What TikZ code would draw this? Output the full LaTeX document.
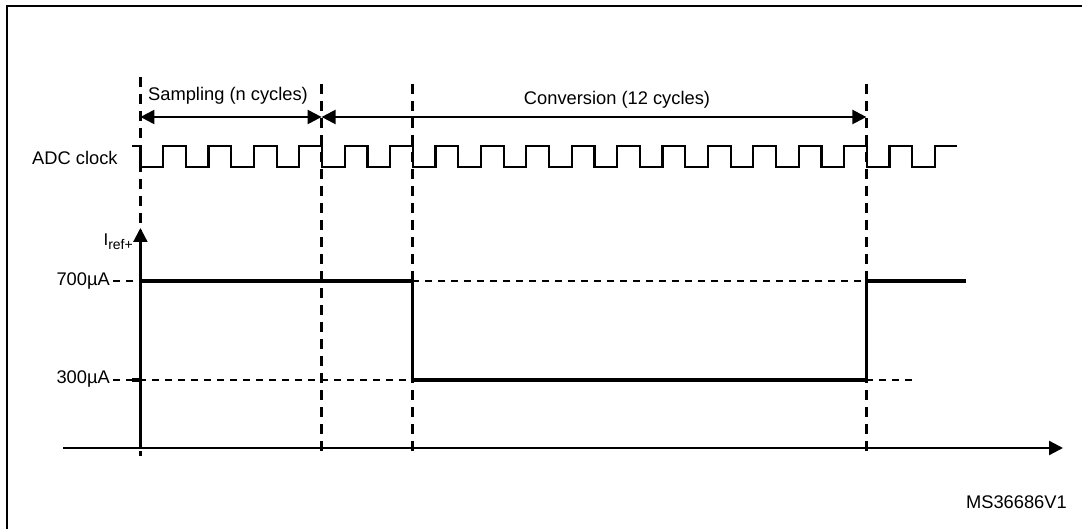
\documentclass[tikz,border=0pt]{standalone}
\usepackage{fontspec}
\setmainfont{Liberation Sans}
\usetikzlibrary{arrows.meta}
\begin{document}
\begin{tikzpicture}[x=1pt,y=-1pt,
  frame/.style={line width=2.6pt},
  clk/.style={line width=2.2pt},
  sig/.style={line width=3.4pt},
  vdashline/.style={line width=2.4pt, dash pattern=on 10pt off 7pt},
  hdashline/.style={line width=2pt, dash pattern=on 7pt off 6pt},
  axisline/.style={line width=2.3pt},
  tip/.style={-{Triangle[length=14pt,width=14pt]}},
  dimarrow/.style={line width=2.3pt,{Triangle[length=14pt,width=14pt]}-{Triangle[length=14pt,width=14pt]}},
  lbl/.style={font=\fontsize{18.3}{20}\selectfont, inner sep=0pt}
]
\useasboundingbox (0,0) rectangle (1082,529);
% frame (top and left edges only)
\coordinate (fTL) at (7,6);
\coordinate (fTR) at (1082,6);
\coordinate (fBL) at (7,529);
\draw[frame] (fTR) -- (fTL) -- (fBL);

% dashed vertical markers
\coordinate (d0t) at (140.4,77);  \coordinate (d0b) at (140.4,456);
\coordinate (d1t) at (321.6,84); \coordinate (d1b) at (321.6,456);
\coordinate (d2t) at (412.4,84); \coordinate (d2b) at (412.4,456);
\coordinate (d3t) at (866.4,84); \coordinate (d3b) at (866.4,456);
\draw[vdashline] (d0t) -- (d0b);
\draw[vdashline] (d1t) -- (d1b);
\draw[vdashline] (d2t) -- (d2b);
\draw[vdashline] (d3t) -- (d3b);

% dimension arrows
\coordinate (a0) at (140.4,117);
\coordinate (a1) at (321.6,117);
\coordinate (a2) at (866.4,117);
\draw[dimarrow] (a0) -- (a1);
\draw[dimarrow] (a1) -- (a2);
\node[lbl, anchor=base] (samp) at (228,101) {Sampling (n cycles)};
\node[lbl, anchor=base] (conv) at (617,105) {Conversion (12 cycles)};

% ADC clock
\node[lbl, anchor=base west] (adc) at (32,165) {ADC clock};
\draw[clk] (132,146) -| (140.4,167)
  foreach \k in {0,...,16} { -| ({140.4+45.4*\k+22.7},146) -| ({140.4+45.4*(\k+1)},167) }
  -| (934.9,146) -- (957,146);

% current axes
\coordinate (yb) at (140.4,448);
\coordinate (yt) at (140.4,228);
\coordinate (xl) at (63,448);
\coordinate (xr) at (1063,448);
\draw[axisline,tip] (yb) -- (yt);
\draw[axisline,tip] (xl) -- (xr);
\node[inner sep=0pt, anchor=base east] (iref) at (133,246)
  {\fontsize{17}{18}\selectfont I\raisebox{-3.5pt}{\fontsize{14}{15}\selectfont ref+}};

% level labels
\node[lbl, anchor=base east] (l700) at (110,286) {700µA};
\node[lbl, anchor=base east] (l300) at (110,383) {300µA};

% dashed level lines
\coordinate (h7a) at (113,281); \coordinate (h7b) at (140.4,281);
\coordinate (h7c) at (412.4,281); \coordinate (h7d) at (866.4,281);
\coordinate (h3a) at (113,380); \coordinate (h3b) at (412.4,380);
\coordinate (h3c) at (866.4,380); \coordinate (h3d) at (918,380);
\draw[hdashline] (h7a) -- (h7b);
\draw[hdashline] (h7c) -- (h7d);
\draw[hdashline] (h3a) -- (h3b);
\draw[hdashline] (h3c) -- (h3d);

% current waveform
\draw[sig] (132,380) -- (140.4,380) -- (140.4,281) -- (412.4,281) -- (412.4,380)
  -- (866.4,380) -- (866.4,281) -- (966,281);

\node[lbl, anchor=base east] (ref) at (1067,508) {MS36686V1};
\end{tikzpicture}
\end{document}
